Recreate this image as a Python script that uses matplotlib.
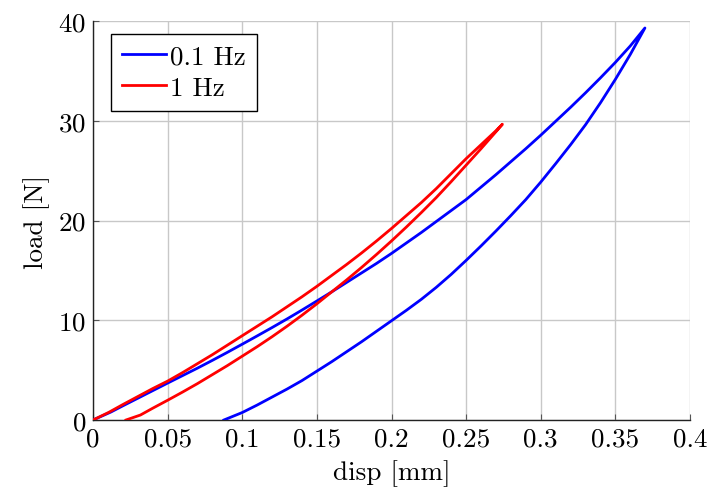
import numpy as np
import matplotlib
matplotlib.use('Agg')
import matplotlib.pyplot as plt

# 0.1 Hz: loading branch (upper) and unloading branch (lower)
blue_load_x = [0, 0.012, 0.02, 0.03, 0.04, 0.05, 0.06, 0.07, 0.08, 0.09, 0.1, 0.11, 0.12, 0.13, 0.14,
               0.15, 0.16, 0.17, 0.18, 0.19, 0.2, 0.21, 0.22, 0.23, 0.24, 0.25, 0.26, 0.27, 0.28, 0.29,
               0.3, 0.31, 0.32, 0.33, 0.34, 0.35, 0.36, 0.3698]
blue_load_y = [0, 0.8, 1.42, 2.18, 2.94, 3.7, 4.45, 5.2, 5.98, 6.78, 7.6, 8.43, 9.27, 10.13, 11.02,
               11.93, 12.85, 13.8, 14.75, 15.7, 16.7, 17.75, 18.8, 19.9, 21.0, 22.1, 23.35, 24.6, 25.9, 27.2,
               28.55, 29.95, 31.35, 32.8, 34.3, 35.85, 37.5, 39.3]
blue_unload_x = [0.3698, 0.36, 0.35, 0.34, 0.33, 0.32, 0.31, 0.3, 0.29, 0.28, 0.27, 0.26, 0.25, 0.24,
                 0.23, 0.22, 0.21, 0.2, 0.19, 0.18, 0.17, 0.16, 0.15, 0.14, 0.13, 0.12, 0.11, 0.1, 0.0877]
blue_unload_y = [39.3, 36.65, 34.15, 31.8, 29.6, 27.6, 25.7, 23.85, 22.1, 20.5, 18.95, 17.45, 16.0, 14.6,
                 13.3, 12.1, 11.0, 9.95, 8.9, 7.85, 6.85, 5.85, 4.9, 3.95, 3.1, 2.3, 1.5, 0.75, 0]

# 1 Hz
red_load_x = [0, 0.0106, 0.02, 0.03, 0.04, 0.05, 0.06, 0.07, 0.08, 0.09, 0.1, 0.11, 0.12, 0.13, 0.14,
              0.15, 0.16, 0.17, 0.18, 0.19, 0.2, 0.21, 0.22, 0.23, 0.24, 0.25, 0.26, 0.27, 0.2743]
red_load_y = [0, 0.77, 1.55, 2.35, 3.15, 3.9, 4.75, 5.65, 6.55, 7.5, 8.45, 9.4, 10.35, 11.35, 12.35,
              13.4, 14.5, 15.6, 16.75, 17.95, 19.2, 20.5, 21.8, 23.2, 24.7, 26.2, 27.6, 29.0, 29.65]
red_unload_x = [0.2743, 0.27, 0.26, 0.25, 0.24, 0.23, 0.22, 0.21, 0.2, 0.19, 0.18, 0.17, 0.16, 0.15,
                0.14, 0.13, 0.12, 0.11, 0.1, 0.09, 0.08, 0.07, 0.06, 0.05, 0.04, 0.0318, 0.0221]
red_unload_y = [29.65, 28.9, 27.2, 25.55, 23.9, 22.3, 20.8, 19.35, 17.95, 16.6, 15.3, 14.05, 12.85, 11.65,
                10.5, 9.4, 8.35, 7.35, 6.4, 5.45, 4.55, 3.65, 2.8, 1.98, 1.18, 0.5, 0]

x_ticks = [0, 0.05, 0.1, 0.15, 0.2, 0.25, 0.3, 0.35, 0.4]
x_labels = ['0', '0.05', '0.1', '0.15', '0.2', '0.25', '0.3', '0.35', '0.4']
y_ticks = [0, 10, 20, 30, 40]

plt.rcParams['font.family'] = 'serif'
plt.rcParams['font.serif'] = ['cmr10', 'DejaVu Serif']
plt.rcParams['mathtext.fontset'] = 'cm'
plt.rcParams['axes.formatter.use_mathtext'] = True

fs = 19.5
fig = plt.figure(figsize=(7.09, 4.89), dpi=100)
ax = fig.add_axes([93/709, 68/489, 597/709, 399/489])

ax.plot(blue_load_x + blue_unload_x, blue_load_y + blue_unload_y, color='#0000ff', lw=2.0, label='0.1 Hz', zorder=3)
ax.plot(red_load_x + red_unload_x, red_load_y + red_unload_y, color='#ff0000', lw=2.0, label='1 Hz', zorder=3)

ax.set_xlim(0, 0.4)
ax.set_ylim(0, 40)
ax.set_xticks(x_ticks)
ax.set_xticklabels(x_labels)
ax.set_yticks(y_ticks)
ax.grid(True, color='#c8c8c8', lw=1.0, zorder=0)
ax.set_axisbelow(True)

for s in ['top', 'right']:
    ax.spines[s].set_visible(False)
for s in ['left', 'bottom']:
    ax.spines[s].set_linewidth(1.0)
    ax.spines[s].set_color('#222222')

ax.tick_params(direction='in', length=4, width=0.8, color='#555555', labelsize=fs, pad=5)
ax.set_xlabel('disp [mm]', fontsize=fs, labelpad=6)
ax.set_ylabel('load [N]', fontsize=fs, labelpad=6)

leg = ax.legend(loc='upper left', bbox_to_anchor=(0.03, 0.967), borderaxespad=0,
                fontsize=fs, fancybox=False, framealpha=1, edgecolor='black',
                handlelength=1.65, handletextpad=0.15, labelspacing=0.25, borderpad=0.4)
leg.get_frame().set_linewidth(1.0)

fig.savefig('out.png', dpi=100)
